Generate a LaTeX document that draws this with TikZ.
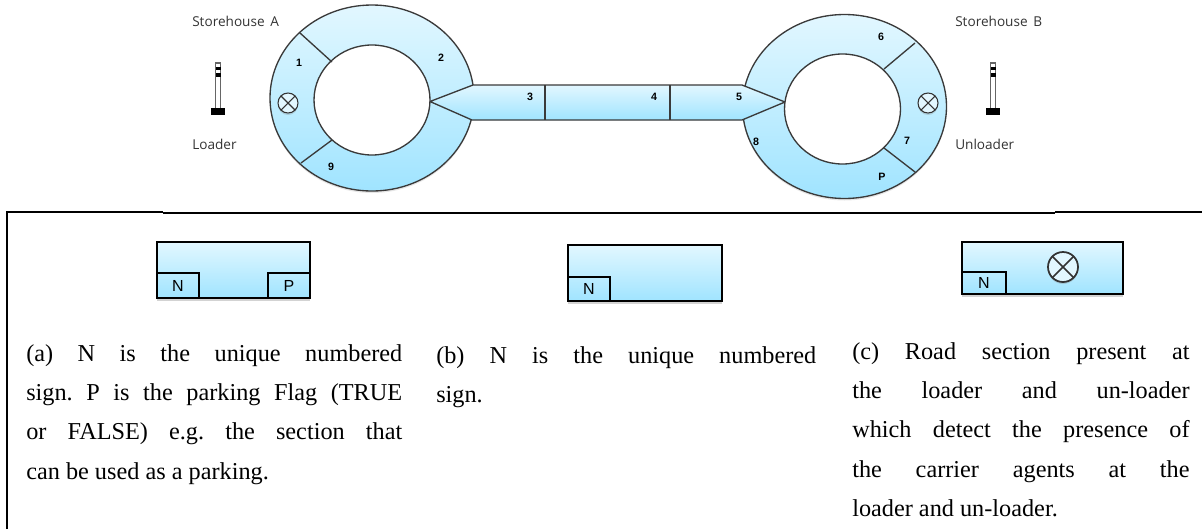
\documentclass[tikz,border=0pt]{standalone}
\usepackage{fontspec}
\setmainfont{Liberation Serif}
\newfontfamily\labelfont{Open Sans}
\newfontfamily\signfont{Liberation Sans}
\usetikzlibrary{shadows}

\definecolor{roadtop}{HTML}{E2F7FF}
\definecolor{roadbot}{HTML}{A0E4FF}
\definecolor{roadline}{HTML}{3A3A3A}

\newcommand{\justbody}{\fontsize{18.2}{29.5}\selectfont\frenchspacing}

\begin{document}
\begin{tikzpicture}[x=0.75pt,y=-0.75pt]

\tikzset{road/.style = {top color=roadtop,bottom color=roadbot,draw=none}}
\tikzset{edge/.style = {draw=roadline,line width=1pt}}
\tikzset{sec/.style = {font=\signfont\bfseries\fontsize{8}{9}\selectfont,inner sep=0pt}}
\tikzset{title/.style = {font=\labelfont\fontsize{10.2}{12}\selectfont,anchor=west,inner sep=0pt,text=black!80}}
\tikzset{para/.style = {font=\justbody,anchor=north west,align=justify,inner sep=0pt}}
\tikzset{panel/.style = {road,drop shadow={opacity=.35,shadow xshift=0pt,shadow yshift=-2.5pt}}}
\tikzset{tag/.style = {draw=black,line width=1pt,font=\signfont\fontsize{12}{13}\selectfont,inner sep=0pt}}

\useasboundingbox (0,0) rectangle (1202,529);

%storehouses
\shade[road,drop shadow={opacity=.2,shadow xshift=0pt,shadow yshift=-1.5pt}] (372,98) ellipse [x radius=102,y radius=93];
\draw[edge] (372,98) ellipse [x radius=102,y radius=93];
\shade[road,drop shadow={opacity=.2,shadow xshift=0pt,shadow yshift=-1.5pt}] (844.5,106.5) ellipse [x radius=102,y radius=92];
\draw[edge] (844.5,106.5) ellipse [x radius=102,y radius=92];
%road
\shade[road] (430,101.5) -- (473,85) -- (742,85) -- (785,102) -- (742,120) -- (472,120) -- cycle;
\draw[edge] (430,101.5) -- (473,85) -- (742,85) -- (785,102) -- (742,120) -- (472,120) -- cycle;
\fill[white] (372,100) ellipse [x radius=58,y radius=55];
\draw[edge] (372,100) ellipse [x radius=58,y radius=55];
\fill[white] (842.5,109) ellipse [x radius=58,y radius=55];
\draw[edge] (842.5,109) ellipse [x radius=58,y radius=55];
%sections
\draw[edge] (545,85) -- (545,120);
\draw[edge] (670,85) -- (670,120);
\draw[edge] (300,33) -- (332,62);
\draw[edge] (301,163) -- (332,140);
\draw[edge] (915,43) -- (884,69);
\draw[edge] (915,172) -- (884,148);

\node[sec] (n1) at (299,63) {1};
\node[sec] (n2) at (441,58) {2};
\node[sec] (n3) at (530,97) {3};
\node[sec] (n4) at (654,97) {4};
\node[sec] (n5) at (739,97) {5};
\node[sec] (n6) at (881,37) {6};
\node[sec] (n7) at (907,141) {7};
\node[sec] (n8) at (756,142) {8};
\node[sec] (n9) at (331,167) {9};
\node[sec] (np) at (882,177) {P};

\node[title] (storeA) at (192,21) {Storehouse\, A};
\node[title] (load) at (192,144) {Loader};
\node[title] (storeB) at (955,21) {Storehouse\, B};
\node[title] (unload) at (955,144) {Unloader};

%poles
\foreach \px in {218,993} {
  \draw[draw=black!60,fill=white,line width=1pt] (\px-2.5,63) rectangle (\px+2.5,110);
  \fill[black] (\px-2.5,67) rectangle (\px+2.5,70);
  \fill[black] (\px-2.5,73) rectangle (\px+2.5,77);
  \fill[black] (\px-7,108) rectangle (\px+7,115);
}

%frame
\draw[line width=1.6pt] (7,529) -- (7,212) -- (163,212);
\draw[line width=1.6pt] (163,213) -- (1055,213);
\draw[line width=1.6pt] (1055,212) -- (1202,212);

%panels
\shade[panel] (157,242) rectangle (310,298);
\draw[line width=1.6pt] (157,242) rectangle (310,298);
\node[tag,minimum width=31.5pt,minimum height=18.75pt] (na) at (178,285.5) {N};
\node[tag,minimum width=31.5pt,minimum height=18.75pt] (pa) at (289,285.5) {P};
\shade[panel] (568,245) rectangle (722,301);
\draw[line width=1.6pt] (568,245) rectangle (722,301);
\node[tag,minimum width=31.5pt,minimum height=18pt] (nb) at (589,289) {N};
\shade[panel] (962,242) rectangle (1123,294);
\draw[line width=1.6pt] (962,242) rectangle (1123,294);
\node[tag,minimum width=33pt,minimum height=16.5pt] (nc) at (984,283) {N};

%sensors
\foreach \cx/\cy/\r/\w in {288/103/10/0.8pt,928/103/10/0.8pt,1063/267/15/1.3pt} {
  \draw[line width=\w,draw=black!80,fill=roadtop,drop shadow={opacity=.3,shadow xshift=0pt,shadow yshift=-1.5pt}] (\cx,\cy) circle [radius=\r];
  \draw[line width=\w,draw=black!80] (\cx,\cy) ++(-0.707*\r,-0.707*\r) -- ++(1.414*\r,1.414*\r);
  \draw[line width=\w,draw=black!80] (\cx,\cy) ++(0.707*\r,-0.707*\r) -- ++(-1.414*\r,1.414*\r);
}

%captions
\node[para,text width=282pt] (capa) at (26,344)
  {(a) N is the unique numbered\linebreak sign. P is the parking Flag (TRUE\linebreak or FALSE) e.g. the section that\linebreak can be used as a parking.};
\node[para,text width=285pt] (capb) at (436,346)
  {(b) N is the unique numbered\linebreak sign.};
\node[para,text width=253pt] (capc) at (852,342)
  {(c) Road section present at\linebreak the loader and un-loader\linebreak which detect the presence of\linebreak the carrier agents at the\linebreak loader and un-loader.};

\end{tikzpicture}
\end{document}
